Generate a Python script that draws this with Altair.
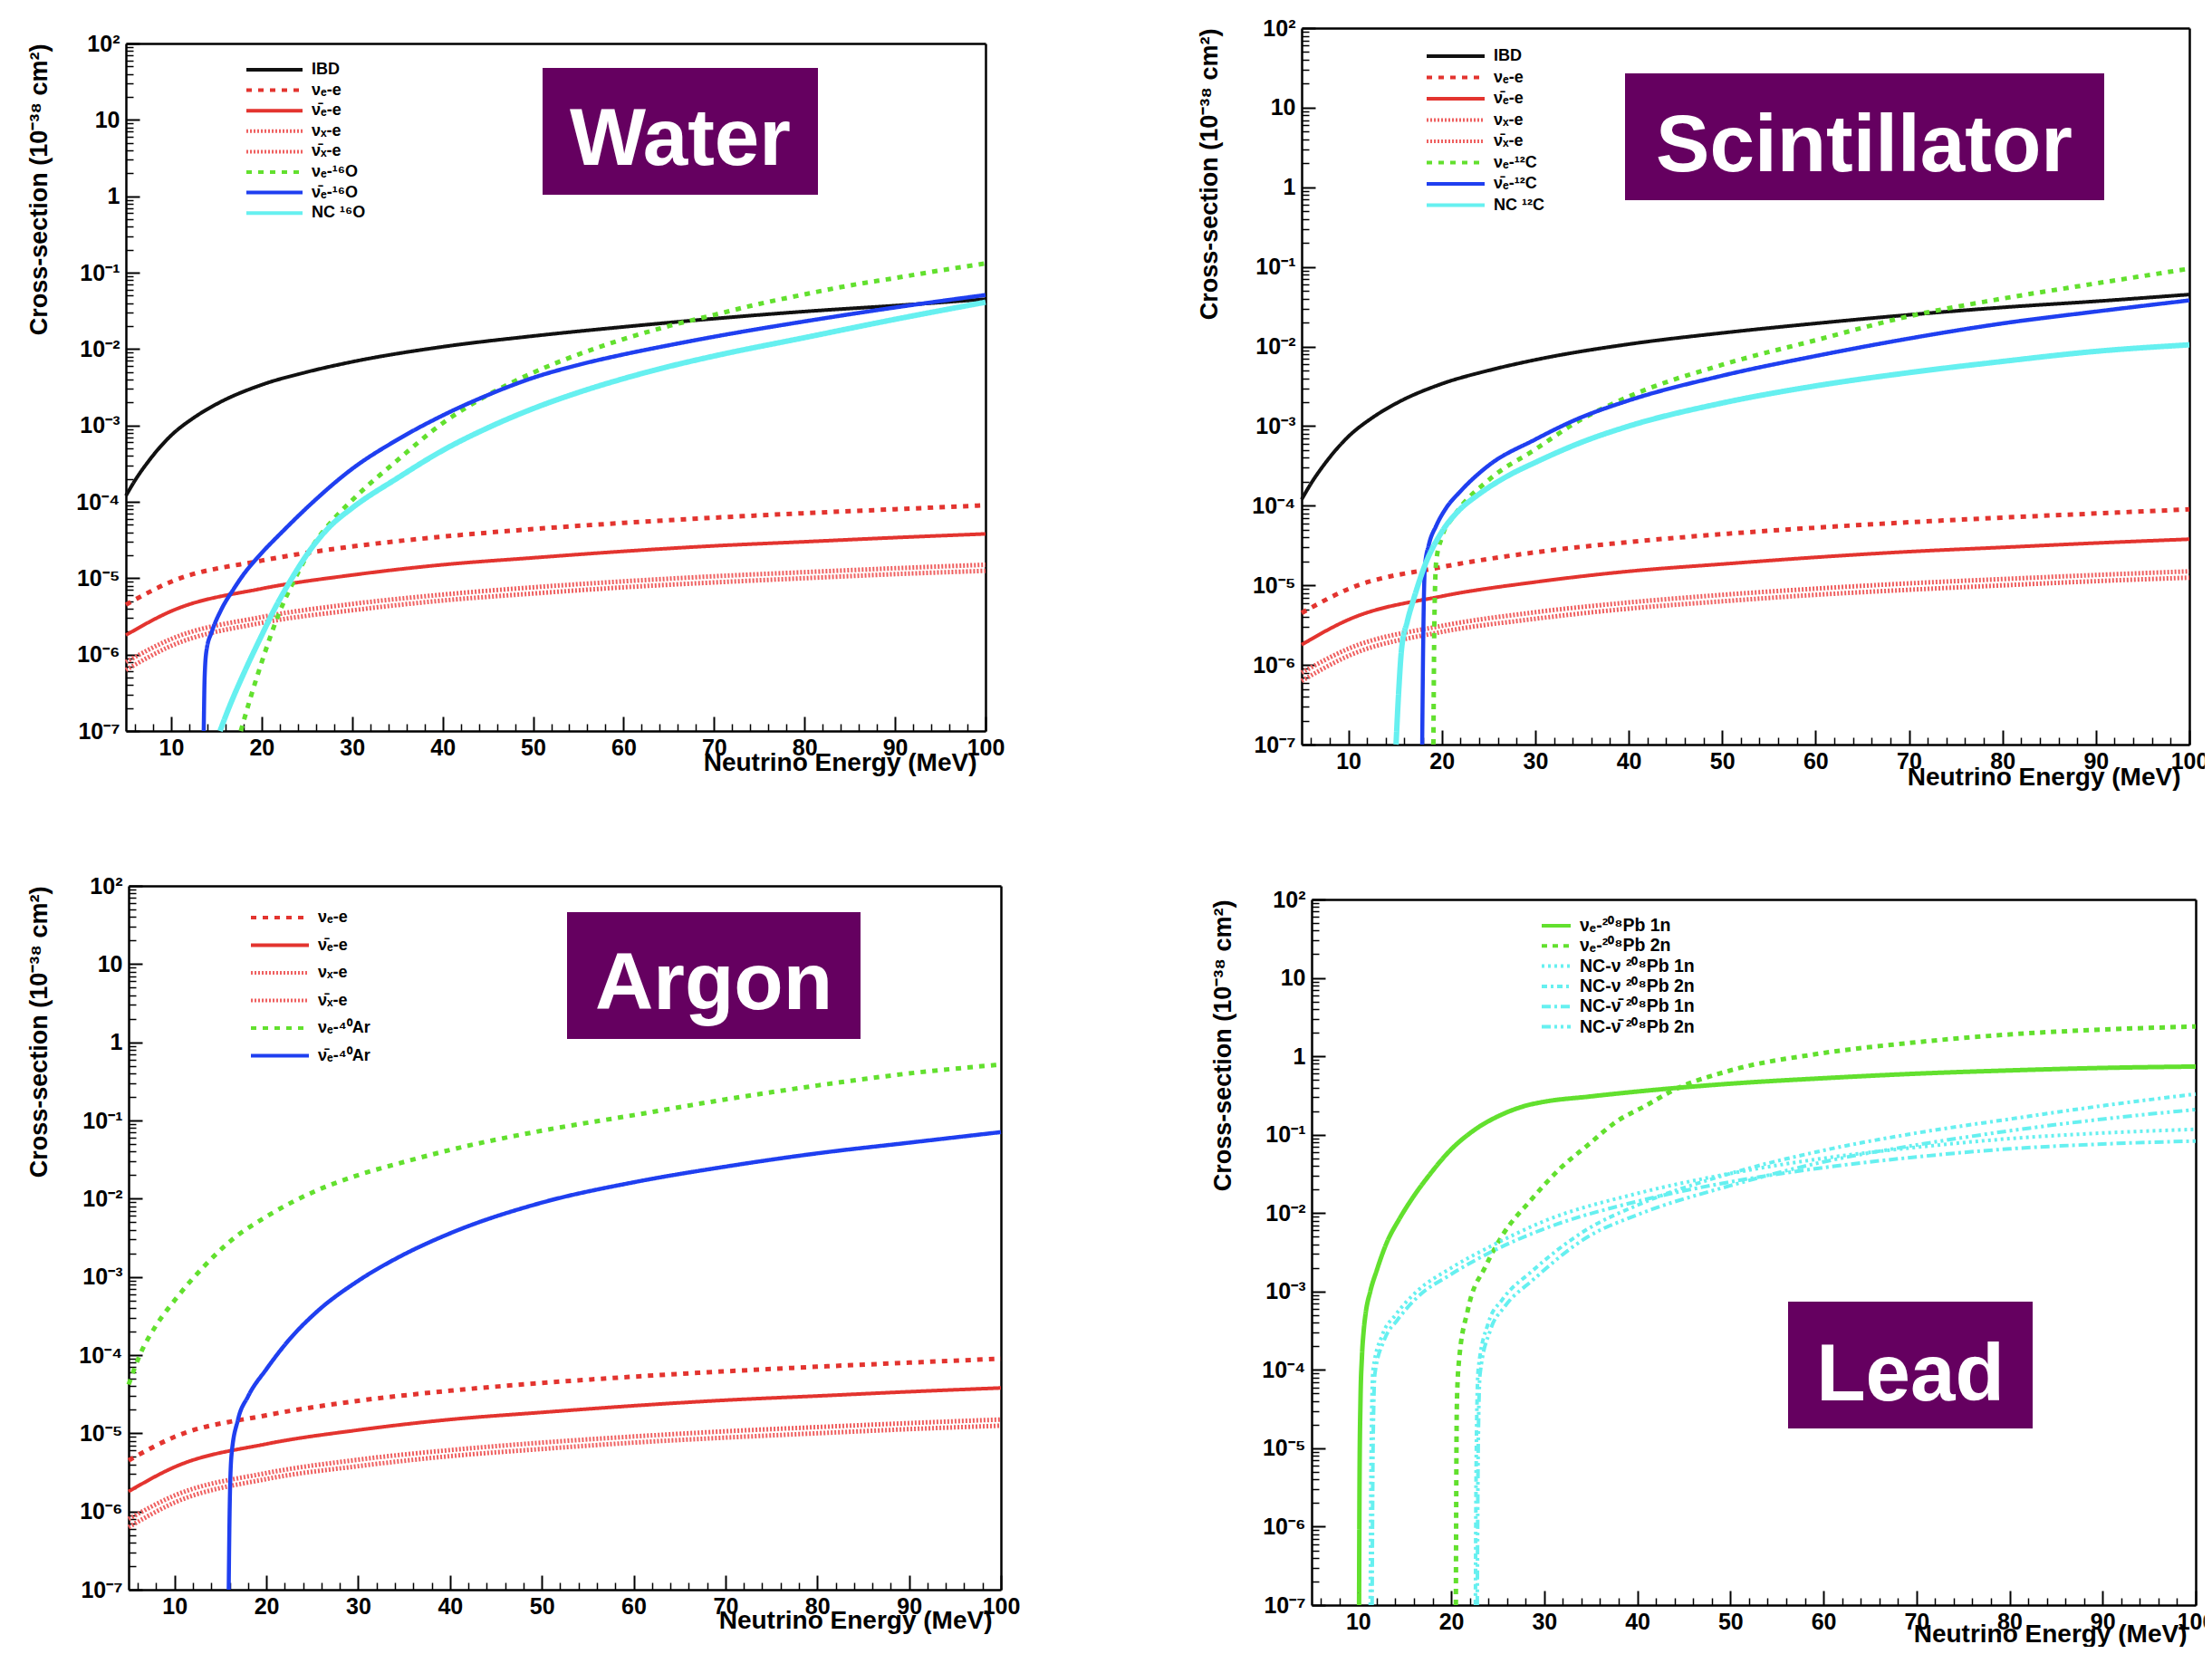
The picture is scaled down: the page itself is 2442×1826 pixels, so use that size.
import altair as alt
import pandas as pd

# ---------------- values (cross-section in 1e-38 cm^2) ----------------
# neutrino-electron elastic scattering (same in the three panels that show it)
E_ES = [5, 10, 20, 30, 40, 50, 60, 70, 80, 90, 100]
NUE_E = [4.5e-6, 9.0e-6, 1.7e-5, 2.6e-5, 3.5e-5, 4.4e-5, 5.3e-5, 6.2e-5, 7.1e-5, 8.0e-5, 9.0e-5]
NUEBAR_E = [1.8e-6, 3.7e-6, 7.3e-6, 1.1e-5, 1.5e-5, 1.85e-5, 2.25e-5, 2.65e-5, 3.0e-5, 3.4e-5, 3.8e-5]
NUX_E = [8.0e-7, 1.6e-6, 3.1e-6, 4.6e-6, 6.1e-6, 7.6e-6, 9.1e-6, 1.06e-5, 1.2e-5, 1.35e-5, 1.5e-5]
NUXBAR_E = [6.3e-7, 1.3e-6, 2.6e-6, 3.8e-6, 5.1e-6, 6.3e-6, 7.6e-6, 8.8e-6, 1.0e-5, 1.13e-5, 1.25e-5]

# inverse beta decay
E_IBD = [5, 6, 7.5, 10, 12.5, 15, 20, 25, 30, 40, 50, 60, 70, 80, 90, 100]
IBD = [1.2e-4, 1.9e-4, 3.4e-4, 7.4e-4, 1.26e-3, 1.9e-3, 3.4e-3, 5.0e-3, 6.8e-3, 1.07e-2,
       1.48e-2, 1.95e-2, 2.5e-2, 3.1e-2, 3.7e-2, 4.5e-2]

# Water (16O)
E_NUE_O = [17.7, 18.8, 20, 21.8, 24, 25.6, 28, 30, 35, 40, 45, 50, 55, 60, 65, 70, 75, 80, 85, 90, 95, 100]
NUE_O = [1e-7, 2.8e-7, 7.9e-7, 3.2e-6, 1.17e-5, 2.6e-5, 6.0e-5, 1.05e-4, 3.5e-4, 1.07e-3, 2.5e-3,
         4.9e-3, 8.5e-3, 1.35e-2, 2.0e-2, 2.8e-2, 3.9e-2, 5.2e-2, 6.8e-2, 8.5e-2, 0.107, 0.132]
E_NUEBAR_O = [13.6, 13.7, 13.9, 14.5, 15.5, 16.9, 18, 19.4, 22.5, 25.5, 30, 35, 40, 45, 50, 55, 60,
              65, 70, 80, 90, 100]
NUEBAR_O = [1e-7, 5.0e-7, 1.12e-6, 2.0e-6, 3.8e-6, 7.2e-6, 1.12e-5, 1.78e-5, 4.3e-5, 9.5e-5, 2.7e-4,
            6.5e-4, 1.35e-3, 2.5e-3, 4.2e-3, 6.2e-3, 8.5e-3, 1.12e-2, 1.45e-2, 2.3e-2, 3.5e-2, 5.1e-2]
E_NC_O = [15.4, 16.3, 18.2, 20, 21.2, 23.6, 25.2, 27.5, 30, 35, 40, 45, 50, 55, 60, 65, 70, 80, 90, 100]
NC_O = [1e-7, 1.9e-7, 6.3e-7, 1.78e-6, 3.5e-6, 1.12e-5, 2.2e-5, 4.7e-5, 8.3e-5, 2.04e-4, 4.7e-4,
        9.3e-4, 1.66e-3, 2.7e-3, 4.1e-3, 5.9e-3, 8.1e-3, 1.41e-2, 2.45e-2, 4.1e-2]

# Scintillator (12C)
E_NUE_C = [19.1, 19.2, 19.4, 20, 21.3, 25, 30, 34.3, 40, 50, 60, 70, 80, 90, 100]
NUE_C = [1e-7, 3.2e-6, 2.0e-5, 4.0e-5, 7.4e-5, 2.1e-4, 5.1e-4, 1.1e-3, 2.35e-3, 5.9e-3, 1.2e-2,
         2.4e-2, 4.0e-2, 6.2e-2, 9.5e-2]
E_NUEBAR_C = [17.9, 18.0, 18.2, 18.6, 19.4, 20.5, 21.9, 25, 30, 34.3, 40, 50, 60, 70, 80, 90, 100]
NUEBAR_C = [1e-7, 1.6e-6, 1.8e-5, 3.2e-5, 5.6e-5, 9.5e-5, 1.48e-4, 3.2e-4, 6.8e-4, 1.2e-3, 2.1e-3,
            4.3e-3, 7.6e-3, 1.26e-2, 1.95e-2, 2.75e-2, 3.8e-2]
E_NC_C = [15.1, 15.4, 15.7, 16.3, 17, 18.2, 20, 21.9, 23.8, 27, 30, 35, 40, 50, 60, 70, 80, 90, 100]
NC_C = [1e-7, 5.0e-7, 1.62e-6, 3.5e-6, 6.8e-6, 1.8e-5, 4.7e-5, 8.9e-5, 1.35e-4, 2.35e-4, 3.5e-4,
        6.3e-4, 1.0e-3, 1.95e-3, 3.2e-3, 4.7e-3, 6.5e-3, 8.7e-3, 1.05e-2]

# Argon (40Ar)
E_NUE_AR = [5, 6.3, 8, 10, 13.1, 16.2, 20, 25.4, 30, 35, 40, 50, 60, 70, 80, 90, 100]
NUE_AR = [4.2e-5, 1.05e-4, 2.4e-4, 5.0e-4, 1.32e-3, 2.95e-3, 5.9e-3, 1.26e-2, 2.0e-2, 2.95e-2,
          4.2e-2, 7.4e-2, 0.117, 0.186, 0.28, 0.40, 0.52]
E_NUEBAR_AR = [15.9, 16.0, 16.2, 16.9, 18, 20, 22.5, 25.4, 30, 34.7, 40, 50, 60, 70, 80, 90, 100]
NUEBAR_AR = [1e-7, 1.0e-6, 5.2e-6, 1.48e-5, 2.95e-5, 6.6e-5, 1.58e-4, 3.5e-4, 8.9e-4, 1.86e-3,
             3.6e-3, 8.9e-3, 1.62e-2, 2.57e-2, 3.8e-2, 5.2e-2, 7.1e-2]

# Lead (208Pb)
E_PB_1N = [10.1, 10.15, 10.25, 10.4, 10.6, 10.8, 11.3, 12, 13, 14.5, 16, 17.5, 20, 22.5, 25.5, 28,
           30, 34.7, 40, 50, 60, 70, 80, 90, 100]
PB_1N = [1e-7, 4.0e-6, 4.0e-5, 1.41e-4, 3.2e-4, 5.2e-4, 1.0e-3, 1.86e-3, 4.0e-3, 8.7e-3, 1.66e-2,
         2.9e-2, 6.5e-2, 0.115, 0.182, 0.234, 0.263, 0.305, 0.355, 0.447, 0.525, 0.60, 0.66, 0.71, 0.74]
E_PB_2N = [20.5, 20.6, 20.8, 21.8, 23.7, 25.5, 28.6, 31.7, 34.7, 37.8, 40.9, 43.9, 50, 59.3, 70, 80, 90, 100]
PB_2N = [1e-7, 3.2e-5, 1.17e-4, 5.9e-4, 2.1e-3, 5.2e-3, 1.48e-2, 3.7e-2, 7.4e-2, 0.148, 0.234,
         0.37, 0.66, 1.07, 1.51, 1.9, 2.19, 2.4]
E_NC_NU_1N = [11.3, 11.4, 11.6, 12.6, 14, 16.3, 20, 24.3, 30, 40, 50, 60, 70, 80, 90, 100]
NC_NU_1N = [1e-7, 1.0e-5, 1.0e-4, 2.8e-4, 5.0e-4, 1.0e-3, 2.0e-3, 3.8e-3, 7.9e-3, 1.78e-2, 3.2e-2,
            5.0e-2, 6.9e-2, 8.9e-2, 0.105, 0.117]
E_NC_NUBAR_1N = [11.5, 11.6, 11.8, 12.8, 14.2, 16.3, 20, 24.3, 30, 40, 50, 60, 70, 80, 90, 100]
NC_NUBAR_1N = [1e-7, 1.0e-5, 8.9e-5, 2.4e-4, 4.3e-4, 8.3e-4, 1.66e-3, 3.2e-3, 6.3e-3, 1.41e-2,
               2.5e-2, 3.8e-2, 5.2e-2, 6.6e-2, 7.6e-2, 8.3e-2]
E_NC_NU_2N = [22.6, 22.7, 22.9, 24, 25.5, 28.6, 34.7, 40, 50, 60, 70, 80, 90, 100]
NC_NU_2N = [1e-7, 1.0e-5, 1.0e-4, 4.0e-4, 7.9e-4, 1.78e-3, 6.3e-3, 1.26e-2, 3.2e-2, 6.3e-2, 0.105,
            0.158, 0.234, 0.33]
E_NC_NUBAR_2N = [22.8, 22.9, 23.1, 24.2, 25.7, 28.8, 34.7, 40, 50, 60, 70, 80, 90, 100]
NC_NUBAR_2N = [1e-7, 1.0e-5, 8.9e-5, 3.2e-4, 6.3e-4, 1.41e-3, 5.0e-3, 9.5e-3, 2.24e-2, 4.5e-2,
               7.4e-2, 0.112, 0.158, 0.209]

PANEL_LABELS = ["Water", "Scintillator", "Argon", "Lead"]
X_TITLE = "Neutrino Energy (MeV)"
Y_TITLE = "Cross-section (10⁻³⁸ cm²)"

# axis ticks
X_MAJOR = [10, 20, 30, 40, 50, 60, 70, 80, 90, 100]
X_MINOR = [e for e in range(6, 100, 2) if e % 10 != 0]
Y_MAJOR = [1e-7, 1e-6, 1e-5, 1e-4, 1e-3, 1e-2, 1e-1, 1, 10, 100]
Y_LABELS = ["10⁻⁷", "10⁻⁶", "10⁻⁵", "10⁻⁴", "10⁻³", "10⁻²", "10⁻¹", "1", "10", "10²"]
Y_MINOR = [m * d for d in Y_MAJOR[:-1] for m in range(2, 10)]
_TH = ["5e-7", "5e-6", "5e-5", "5e-4", "5e-3", "5e-2", "0.5", "5", "50"]
Y_EXPR = " : ".join(f"datum.value < {t} ? '{l}'" for t, l in zip(_TH, Y_LABELS[:-1])) + f" : '{Y_LABELS[-1]}'"

# ---------------- styling ----------------
W, H = 2426, 1810
FONT = "Liberation Sans, Arial, Helvetica, sans-serif"
PURPLE = "#650060"
BLACK = "#111111"
RED = "#e3342f"
PINK = "#ef6060"
GREEN = "#62e02e"
BLUE = "#1f3ff0"
CYAN = "#66f0f0"
SOLID = [1, 0]
DOT = [6, 7]
FINE = [2, 2]

NUE = "νₑ"
NUEB = "ν̄ₑ"
NUX = "νₓ"
NUXB = "ν̄ₓ"

ES_SERIES = [
    (f"{NUE}-e", E_ES, NUE_E, RED, DOT, 5),
    (f"{NUEB}-e", E_ES, NUEBAR_E, RED, SOLID, 4),
    (f"{NUX}-e", E_ES, NUX_E, PINK, FINE, 5),
    (f"{NUXB}-e", E_ES, NUXBAR_E, PINK, FINE, 5),
]

WATER = [("IBD", E_IBD, IBD, BLACK, SOLID, 4)] + ES_SERIES + [
    (f"{NUE}-¹⁶O", E_NUE_O, NUE_O, GREEN, DOT, 5),
    (f"{NUEB}-¹⁶O", E_NUEBAR_O, NUEBAR_O, BLUE, SOLID, 4.5),
    ("NC ¹⁶O", E_NC_O, NC_O, CYAN, SOLID, 6),
]
SCINT = [("IBD", E_IBD, IBD, BLACK, SOLID, 4)] + ES_SERIES + [
    (f"{NUE}-¹²C", E_NUE_C, NUE_C, GREEN, DOT, 5),
    (f"{NUEB}-¹²C", E_NUEBAR_C, NUEBAR_C, BLUE, SOLID, 4.5),
    ("NC ¹²C", E_NC_C, NC_C, CYAN, SOLID, 6),
]
ARGON = ES_SERIES + [
    (f"{NUE}-⁴⁰Ar", E_NUE_AR, NUE_AR, GREEN, DOT, 5),
    (f"{NUEB}-⁴⁰Ar", E_NUEBAR_AR, NUEBAR_AR, BLUE, SOLID, 4.5),
]
LEAD = [
    (f"{NUE}-²⁰⁸Pb 1n", E_PB_1N, PB_1N, GREEN, SOLID, 5),
    (f"{NUE}-²⁰⁸Pb 2n", E_PB_2N, PB_2N, GREEN, [6, 6], 5),
    ("NC-ν ²⁰⁸Pb 1n", E_NC_NU_1N, NC_NU_1N, CYAN, [3, 4], 4),
    ("NC-ν ²⁰⁸Pb 2n", E_NC_NU_2N, NC_NU_2N, CYAN, [6, 4, 3, 4], 4),
    ("NC-ν̄ ²⁰⁸Pb 1n", E_NC_NUBAR_1N, NC_NUBAR_1N, CYAN, [10, 4, 3, 4], 4),
    ("NC-ν̄ ²⁰⁸Pb 2n", E_NC_NUBAR_2N, NC_NUBAR_2N, CYAN, [10, 4, 3, 4, 3, 4], 4),
]

# panel geometry in view pixels: plot box (L, R, T, B);
# legend (x, y, symbol length, font size, row padding, clip height)
PANELS = [
    dict(series=WATER, box=(131, 1080, 40, 799), leg=(262, 60, 62, 18, 4.6, 18),
         ytx=35, xty=21, lab=(591, 67, 895, 207, 743, 174)),
    dict(series=SCINT, box=(1429, 2409, 23, 814), leg=(1565, 45, 64, 18, 5.5, 18),
         ytx=1327, xty=22, lab=(1786, 73, 2315, 213, 2050, 181)),
    dict(series=ARGON, box=(134, 1097, 970, 1747), leg=(267, 996, 64, 18, 12.5, 18),
         ytx=35, xty=20, lab=(618, 999, 942, 1139, 780, 1106)),
    dict(series=LEAD, box=(1440, 2416, 985, 1764), leg=(1692, 1004, 32, 19.5, 2.3, 20),
         ytx=1342, xty=18, lab=(1966, 1429, 2236, 1569, 2101, 1538)),
]


def panel_layers(p, label):
    L, R, T, B = p["box"]
    series = p["series"]
    rows = []
    for name, es, vals, color, dash, width in series:
        for e, v in zip(es, vals):
            rows.append({"E": e, "sigma": v, "series": name, "w": width})
    df = pd.DataFrame(rows)
    names = [s[0] for s in series]
    colors = [s[3] for s in series]
    dashes = [s[4] for s in series]

    def xs():
        return alt.Scale(domain=[5, 100], range=[L, R], nice=False, zero=False)

    def ys():
        return alt.Scale(type="log", domain=[1e-7, 100], range=[B, T], nice=False)

    lx, ly, sym, fs, rp, ch = p["leg"]
    leg = alt.Legend(orient="none", legendX=lx, legendY=ly, title=None, symbolType="stroke",
                     symbolSize=sym * sym, symbolStrokeWidth=4, labelFont=FONT, labelFontSize=fs,
                     labelFontWeight="bold", labelColor="black", rowPadding=rp, labelOffset=8,
                     padding=0, labelLimit=500, clipHeight=ch)

    x_main = alt.X("E:Q", scale=xs(), axis=alt.Axis(
        orient="bottom", offset=B - H, values=X_MAJOR, format="d", labelFont=FONT,
        labelFontSize=25, labelFontWeight="bold", labelColor="black", labelPadding=6,
        labelFlush=False, labelOverlap=False, ticks=False, domain=True, domainColor="black",
        domainWidth=2.5, grid=False, title=X_TITLE, titleFont=FONT, titleFontSize=28,
        titleFontWeight="bold", titleColor="black", titleAlign="right", titleBaseline="top",
        titleX=R - 10, titleY=p["xty"]))
    y_main = alt.Y("sigma:Q", scale=ys(), axis=alt.Axis(
        orient="left", offset=-L, values=Y_MAJOR, labelExpr=Y_EXPR, labelFont=FONT,
        labelFontSize=25, labelFontWeight="bold", labelColor="black", labelPadding=7,
        labelFlush=False, labelOverlap=False, ticks=False, domain=True, domainColor="black",
        domainWidth=2.5, grid=False, title=Y_TITLE, titleFont=FONT, titleFontSize=27,
        titleFontWeight="bold", titleColor="black", titleAngle=270, titleAlign="right",
        titleBaseline="middle", titleX=p["ytx"] - L, titleY=T))

    lines = alt.Chart(df).mark_line(interpolate="monotone").encode(
        x=x_main, y=y_main,
        color=alt.Color("series:N", scale=alt.Scale(domain=names, range=colors), legend=leg),
        strokeDash=alt.StrokeDash("series:N", scale=alt.Scale(domain=names, range=dashes), legend=leg),
        strokeWidth=alt.StrokeWidth("w:Q", scale=None),
    )

    def dummy(xaxis, yaxis):
        return alt.Chart(df).mark_point(opacity=0).encode(
            x=alt.X("E:Q", scale=xs(), axis=xaxis),
            y=alt.Y("sigma:Q", scale=ys(), axis=yaxis))

    major = dummy(
        alt.Axis(orient="top", offset=-B, values=X_MAJOR, labels=False, domain=False, ticks=True,
                 tickSize=16, tickWidth=2, tickColor="black", grid=False, title=None),
        alt.Axis(orient="right", offset=L - W, values=Y_MAJOR, labels=False, domain=False,
                 ticks=True, tickSize=15, tickWidth=2, tickColor="black", grid=False, title=None))
    minor = dummy(
        alt.Axis(orient="top", offset=-B, values=X_MINOR, labels=False, domain=False, ticks=True,
                 tickSize=8, tickWidth=1.5, tickColor="black", grid=False, title=None),
        alt.Axis(orient="right", offset=L - W, values=Y_MINOR, labels=False, domain=False,
                 ticks=True, tickSize=8, tickWidth=1.5, tickColor="black", grid=False, title=None))
    frame = dummy(
        alt.Axis(orient="top", offset=-T, values=X_MAJOR, labels=False, domain=True,
                 domainColor="black", domainWidth=2.5, ticks=False, grid=False, title=None),
        alt.Axis(orient="right", offset=R - W, values=Y_MAJOR, labels=False, domain=True,
                 domainColor="black", domainWidth=2.5, ticks=False, grid=False, title=None))

    bx0, by0, bx1, by1, tx, ty = p["lab"]
    ldf = pd.DataFrame({"t": [label]})
    box = alt.Chart(ldf).mark_rect(color=PURPLE).encode(
        x=alt.value(bx0), x2=alt.value(bx1), y=alt.value(by0), y2=alt.value(by1))
    txt = alt.Chart(ldf).mark_text(font=FONT, fontSize=89, fontWeight="bold", color="white",
                                   align="center", baseline="alphabetic").encode(
        x=alt.value(tx), y=alt.value(ty), text="t:N")
    return [frame, minor, major, lines, box, txt]


layers = []
for p, lab in zip(PANELS, PANEL_LABELS):
    layers += panel_layers(p, lab)

chart = (
    alt.layer(*layers)
    .resolve_scale(x="independent", y="independent", color="independent", strokeDash="independent")
    .resolve_axis(x="independent", y="independent")
    .resolve_legend(color="independent", strokeDash="independent")
    .properties(width=W, height=H, autosize=alt.AutoSizeParams(type="none"), padding=0,
                background="white")
    .configure_view(stroke=None)
)

chart.save("out.html", embed_options={"renderer": "svg", "actions": False})
